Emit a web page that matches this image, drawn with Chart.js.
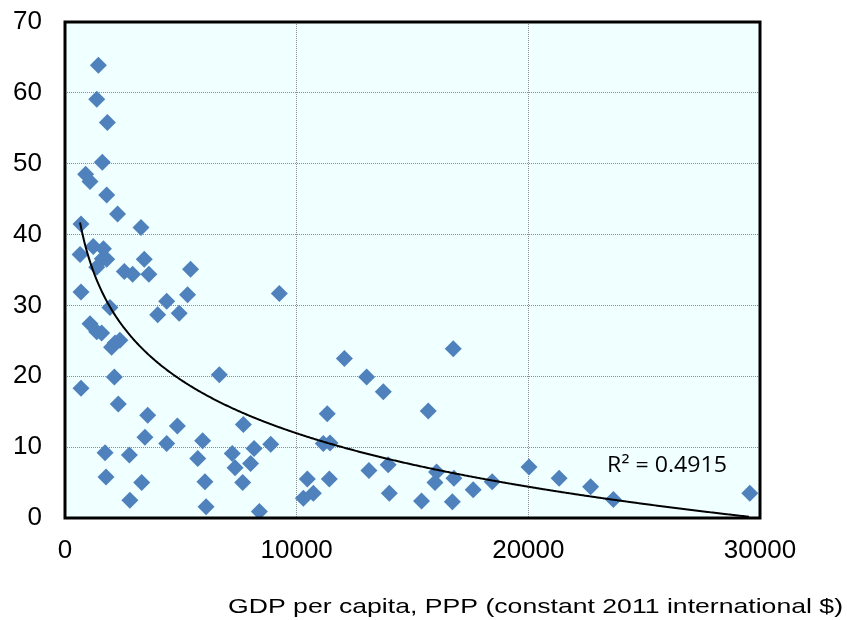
<!DOCTYPE html>
<html>
<head>
<meta charset="utf-8">
<script src="https://cdn.jsdelivr.net/npm/chart.js@4.4.1/dist/chart.umd.min.js"></script>
<style>
  html, body { margin: 0; padding: 0; background: #fff; }
</style>
</head>
<body>
<canvas id="chart" width="847" height="620"></canvas>
<script>
// GDP per capita (PPP, constant 2011 int. $) vs. share (%)
const gdp = [
  1440, 1370, 1830, 1610, 890, 1080, 1800, 2270, 3280, 690,
  650, 1220, 1660, 1610, 1800, 1370, 3420, 2560, 2920, 3620,
  5420, 690, 4390, 5290, 9250, 1940, 4000, 4930, 1080, 1370,
  1580, 2010, 2370, 2160, 690, 2130, 6660, 2300, 3570, 7700,
  4850, 3450, 4390, 5940, 8880, 8160, 1730, 2780, 5730, 7220,
  7340, 8010, 1770, 3310, 6040, 7670, 2800, 6090, 8390, 10460,
  10290, 10720, 11150, 11440, 11320, 12060, 13020, 13740, 16760, 15680,
  11410, 13120, 13950, 14000, 15390, 16040, 15970, 16790, 16720, 17620,
  18440, 20030, 21330, 22690, 23670, 29560
];
const share = [
  63.9, 59.1, 55.8, 50.2, 48.5, 47.5, 45.6, 42.9, 41.0, 41.5,
  37.2, 38.3, 38.0, 36.6, 36.5, 35.4, 36.5, 34.8, 34.4, 34.4,
  35.1, 31.9, 30.6, 31.5, 31.7, 29.7, 28.7, 28.9, 27.4, 26.3,
  26.1, 24.1, 25.1, 24.7, 18.3, 19.9, 20.2, 16.1, 14.5, 13.2,
  13.0, 11.4, 10.5, 10.9, 10.4, 9.8, 9.2, 8.9, 8.4, 9.1,
  7.1, 7.7, 5.8, 5.0, 5.1, 5.0, 2.5, 1.6, 0.9, 5.5,
  2.8, 3.5, 10.5, 10.6, 14.7, 22.5, 19.9, 17.8, 23.9, 15.1,
  5.5, 6.7, 7.5, 3.5, 2.4, 6.5, 5.0, 5.6, 2.3, 4.0,
  5.1, 7.2, 5.6, 4.4, 2.6, 3.5
];
const xTicks = [0, 10000, 20000, 30000];
const yTicks = [0, 10, 20, 30, 40, 50, 60, 70];
const xTitle = "GDP per capita, PPP (constant 2011 international $)";
const r2Label = "R\u00B2 = 0.4915";
const r2Anchor = [23400, 6.5];

const points = gdp.map((x, i) => ({ x: x, y: share[i] }));

// logarithmic least-squares trend, like the spreadsheet trendline
function logFit(xs, ys) {
  let sx = 0, sy = 0, sxx = 0, sxy = 0;
  const n = xs.length;
  xs.forEach((x, i) => {
    const l = Math.log(x);
    sx += l; sy += ys[i]; sxx += l * l; sxy += l * ys[i];
  });
  const b = (n * sxy - sx * sy) / (n * sxx - sx * sx);
  const a = (sy - b * sx) / n;
  return { a, b };
}
const fit = logFit(gdp, share);

const plotDecor = {
  id: "plotDecor",
  beforeDraw(chart) {
    const { ctx, chartArea: a } = chart;
    ctx.save();
    ctx.fillStyle = "#fff";
    ctx.fillRect(0, 0, chart.width, chart.height);
    ctx.fillStyle = "#F0FFFF";
    ctx.fillRect(a.left, a.top, a.right - a.left, a.bottom - a.top);
    ctx.restore();
  },
  afterDatasetsDraw(chart) {
    const { ctx, chartArea: a } = chart;
    const xs = chart.scales.x, ys = chart.scales.y;
    const minX = Math.min(...gdp), maxX = Math.max(...gdp);

    // trendline
    ctx.save();
    ctx.beginPath();
    ctx.rect(a.left, a.top, a.right - a.left, a.bottom - a.top);
    ctx.clip();
    ctx.beginPath();
    let started = false;
    for (let px = xs.getPixelForValue(minX); px <= xs.getPixelForValue(maxX); px += 1) {
      const v = xs.getValueForPixel(px);
      const py = ys.getPixelForValue(fit.a + fit.b * Math.log(v));
      if (!started) { ctx.moveTo(px, py); started = true; } else ctx.lineTo(px, py);
    }
    ctx.strokeStyle = "#000";
    ctx.lineWidth = 2;
    ctx.stroke();
    ctx.restore();

    // R² label
    ctx.save();
    ctx.font = "21px 'Open Sans', sans-serif";
    ctx.fillStyle = "#000";
    ctx.textBaseline = "alphabetic";
    const lx = xs.getPixelForValue(r2Anchor[0]);
    const ly = ys.getPixelForValue(r2Anchor[1]);
    const w = ctx.measureText(r2Label).width;
    ctx.translate(lx, ly);
    ctx.scale(120 / w, 1);
    ctx.fillText(r2Label, 0, 0);
    ctx.restore();

    // plot frame
    ctx.save();
    ctx.strokeStyle = "#000";
    ctx.lineWidth = 3;
    ctx.strokeRect(a.left, a.top, a.right - a.left, a.bottom - a.top);
    ctx.restore();
  },
  afterDraw(chart) {
    const { ctx } = chart;
    ctx.save();
    ctx.font = "21px 'Liberation Sans', Arial, sans-serif";
    ctx.fillStyle = "#000";
    ctx.textAlign = "right";
    ctx.textBaseline = "alphabetic";
    const w = ctx.measureText(xTitle).width;
    ctx.translate(chart.width - 4, chart.height - 7);
    ctx.scale(615 / w, 1);
    ctx.fillText(xTitle, 0, 0);
    ctx.restore();
  }
};

const tickFont = { family: "'Liberation Sans', Arial, sans-serif", size: 26 };

new Chart(document.getElementById("chart"), {
  type: "scatter",
  data: {
    datasets: [
      {
        label: "Countries",
        data: points,
        pointStyle: "rectRot",
        pointRadius: 8.5,
        pointHoverRadius: 8.5,
        backgroundColor: "#4F81BD",
        borderColor: "#4F81BD",
        borderWidth: 0,
      },
    ],
  },
  options: {
    responsive: false,
    animation: false,
    devicePixelRatio: 1,
    layout: { padding: { left: 0, right: 87, top: 22, bottom: 0 } },
    plugins: {
      legend: { display: false },
      tooltip: { enabled: false },
    },
    scales: {
      x: {
        type: "linear",
        min: 0,
        max: 30000,
        afterBuildTicks: (s) => { s.ticks = xTicks.map((v) => ({ value: v })); },
        afterFit: (s) => { s.height = 102; },
        grid: { color: "#8c8c8c", lineWidth: 1, drawTicks: false },
        border: { display: false, dash: [1, 1] },
        ticks: { color: "#000", font: tickFont, padding: 17, maxRotation: 0, callback: (v) => String(v) },
      },
      y: {
        min: 0,
        max: 70,
        afterBuildTicks: (s) => { s.ticks = yTicks.map((v) => ({ value: v })); },
        afterFit: (s) => {
          s.width = 65;
          // keep the label padding from pushing the plot top down
          s.paddingTop = 0;
          s.paddingBottom = 0;
        },
        grid: { color: "#8c8c8c", lineWidth: 1, drawTicks: false },
        border: { display: false, dash: [1, 1] },
        ticks: { color: "#000", font: tickFont, padding: 23, callback: (v) => String(v) },
      },
    },
  },
  plugins: [plotDecor],
});
</script>
</body>
</html>
